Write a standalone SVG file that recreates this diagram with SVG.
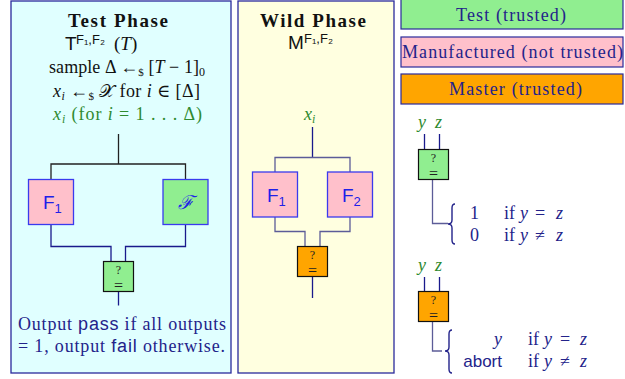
<svg xmlns="http://www.w3.org/2000/svg" width="625" height="379" viewBox="0 0 625 379">
<style>
.serif{font-family:'Liberation Serif','DejaVu Serif',serif;}
.sans{font-family:'Liberation Sans','DejaVu Sans',sans-serif;}
.it{font-style:italic;}
.bold{font-weight:bold;}
.navy{fill:#23238a;}
.green{fill:#2f8a2f;}
.blk{fill:#111;}
.panel{stroke:#2a2a9c;stroke-width:1.3;}
.mfr{fill:#ffc0cb;stroke:#3a3aee;stroke-width:1.3;}
.tst{fill:#90ee90;stroke:#3a3aee;stroke-width:1.3;}
.eqg{fill:#90ee90;stroke:#111;stroke-width:1.2;}
.eqo{fill:#ffa500;stroke:#111;stroke-width:1.2;}
.lbl{font-family:'Liberation Sans','DejaVu Sans',sans-serif;font-size:19px;fill:#2020e8;}
.q{font-family:'Liberation Serif','DejaVu Serif',serif;fill:#222;text-anchor:middle;}
.w{fill:none;stroke-width:1.3;}
.wn{stroke:#1a1a8c;}
.wg{stroke:#5c5c98;}
.wk{stroke:#222;}
.brace{fill:none;stroke:#23238a;stroke-width:1.4;}
</style>

<g id="test-panel">
  <rect class="panel" x="11" y="1" width="220" height="372" fill="#e0ffff"/>
  <text class="serif bold blk" x="68" y="27" font-size="19" textLength="100">Test Phase</text>
  <text class="blk" y="49.5" font-size="19"><tspan class="sans" x="65">T</tspan><tspan class="sans" font-size="13" dy="-6" x="76">F₁,F₂</tspan><tspan class="serif" dy="6" x="114">(</tspan><tspan class="serif it">T</tspan><tspan class="serif">)</tspan></text>
  <text class="serif blk" x="49" y="73" font-size="18" textLength="156">sample Δ ←<tspan font-size="11" dy="3">$</tspan><tspan dy="-3"> [</tspan><tspan class="it">T</tspan> − 1]<tspan font-size="12" dy="3">0</tspan></text>
  <text class="serif blk" x="53" y="97" font-size="18" textLength="147"><tspan class="it">x</tspan><tspan class="it" font-size="12" dy="3">i</tspan><tspan dy="-3"> ←</tspan><tspan font-size="11" dy="3">$</tspan><tspan dy="-3"> 𝒳 </tspan>for <tspan class="it">i</tspan> ∈ [Δ]</text>
  <text class="serif green" x="53" y="120" font-size="18" textLength="149"><tspan class="it">x</tspan><tspan class="it" font-size="12" dy="3">i</tspan><tspan dy="-3"> (for </tspan><tspan class="it">i</tspan> = 1 . . . Δ)</text>
  <text class="serif navy" x="18" y="330" font-size="18" textLength="208">Output <tspan class="sans">pass</tspan> if all outputs</text>
  <text class="serif navy" x="18" y="352" font-size="18" textLength="207">= 1, output <tspan class="sans">fail</tspan> otherwise.</text>
</g>

<g id="wild-panel">
  <rect class="panel" x="238" y="1" width="156" height="372" fill="#ffffe0"/>
  <text class="serif bold blk" x="260" y="27" font-size="19" textLength="106">Wild Phase</text>
  <text class="blk" y="49" font-size="19"><tspan class="sans" x="288">M</tspan><tspan class="sans" font-size="13" dy="-6" x="304">F₁,F₂</tspan></text>
  <text class="serif green it" x="304" y="120" font-size="18">x<tspan font-size="12" dy="3">i</tspan></text>
</g>

<g id="legend-test">
  <rect x="401" y="-1" width="222" height="30" fill="#90ee90" stroke="#2a2a9c" stroke-width="1.2"/>
  <text class="serif navy" x="456" y="21" font-size="18" textLength="110">Test (trusted)</text>
</g>
<g id="legend-manufactured">
  <rect x="401" y="37" width="222" height="30" fill="#ffc0cb" stroke="#2a2a9c" stroke-width="1.2"/>
  <text class="serif navy" x="402" y="58" font-size="18" textLength="221">Manufactured (not trusted)</text>
</g>
<g id="legend-master">
  <rect x="401" y="74" width="222" height="30" fill="#ffa500" stroke="#2a2a9c" stroke-width="1.2"/>
  <text class="serif navy" x="449" y="95" font-size="18" textLength="133">Master (trusted)</text>
</g>

<g id="connectors">
  <polyline class="w wk" points="118.5,134 118.5,164"/>
  <polyline class="w wk" points="51,179 51,164 185.5,164 185.5,179"/>
  <polyline class="w wn" points="51,224 51,246.5 111,246.5 111,261"/>
  <polyline class="w wn" points="185.5,224 185.5,246.5 125.5,246.5 125.5,261"/>
  <polyline class="w wn" points="118.5,291 118.5,305.5"/>
  <polyline class="w wn" points="312.5,127 312.5,157.5"/>
  <polyline class="w wg" points="275,172 275,157.5 350,157.5 350,172"/>
  <polyline class="w wg" points="275,217 275,231.5 305,231.5 305,247"/>
  <polyline class="w wg" points="350,217 350,231.5 320,231.5 320,247"/>
  <polyline class="w wn" points="312.5,276 312.5,298"/>
  <polyline class="w wn" points="424.5,134 424.5,149"/>
  <polyline class="w wn" points="439.5,134 439.5,149"/>
  <polyline class="w wg" points="432.5,179 432.5,223.5 448,223.5"/>
  <polyline class="w wn" points="424.5,277 424.5,291"/>
  <polyline class="w wn" points="439.5,277 439.5,291"/>
  <polyline class="w wg" points="432.5,321 432.5,351 442,351"/>
</g>

<g id="test-F1">
  <rect class="mfr" x="28.5" y="179.5" width="45" height="45"/>
  <text class="lbl" x="43" y="209">F<tspan font-size="13" dy="4">1</tspan></text>
</g>
<g id="test-F">
  <rect class="tst" x="163" y="179.5" width="45" height="45"/>
  <text x="185.5" y="209" font-size="19" font-style="italic" fill="#2020e8" text-anchor="middle" font-family="DejaVu Serif,serif">ℱ</text>
</g>
<g id="test-eq">
  <rect class="eqg" x="103.5" y="261.5" width="30" height="30"/>
  <text class="q"><tspan x="118.5" y="274" font-size="12">?</tspan><tspan x="118.5" y="290.5" font-size="16">=</tspan></text>
</g>

<g id="wild-F1">
  <rect class="mfr" x="252.5" y="172" width="45" height="45"/>
  <text class="lbl" x="267" y="201.5">F<tspan font-size="13" dy="4">1</tspan></text>
</g>
<g id="wild-F2">
  <rect class="mfr" x="327.5" y="172" width="45" height="45"/>
  <text class="lbl" x="342" y="201.5">F<tspan font-size="13" dy="4">2</tspan></text>
</g>
<g id="wild-eq">
  <rect class="eqo" x="297.5" y="246.5" width="30" height="30"/>
  <text class="q"><tspan x="312.5" y="259" font-size="12">?</tspan><tspan x="312.5" y="275.5" font-size="16">=</tspan></text>
</g>

<g id="gadget-test">
  <text class="serif it green" x="418" y="128" font-size="18">y</text>
  <text class="serif it green" x="435" y="128" font-size="18">z</text>
  <rect class="eqg" x="418.5" y="149.5" width="30" height="30"/>
  <text class="q"><tspan x="433.5" y="162" font-size="12">?</tspan><tspan x="433.5" y="178.5" font-size="16">=</tspan></text>
  <path class="brace" d="M455,204 Q452,204 452,208 L452,220 Q452,224 448,224 Q452,224 452,228 L452,240 Q452,244 455,244"/>
  <text class="serif navy" x="470" y="219" font-size="18">1</text>
  <text class="serif navy" x="470" y="241" font-size="18">0</text>
  <text class="serif navy" y="219" font-size="18"><tspan x="504">if</tspan><tspan class="it" x="520">y</tspan><tspan x="535">=</tspan><tspan class="it" x="556">z</tspan></text>
  <text class="serif navy" y="241" font-size="18"><tspan x="504">if</tspan><tspan class="it" x="520">y</tspan><tspan x="535">≠</tspan><tspan class="it" x="556">z</tspan></text>
</g>

<g id="gadget-master">
  <text class="serif it green" x="418" y="271" font-size="18">y</text>
  <text class="serif it green" x="435" y="271" font-size="18">z</text>
  <rect class="eqo" x="418.5" y="291.5" width="30" height="30"/>
  <text class="q"><tspan x="433.5" y="304" font-size="12">?</tspan><tspan x="433.5" y="320.5" font-size="16">=</tspan></text>
  <path class="brace" d="M452,330 Q449,330 449,334 L449,347 Q449,351 445,351 Q449,351 449,355 L449,369 Q449,373 452,373"/>
  <text class="serif navy it" x="502" y="345" font-size="18" text-anchor="end">y</text>
  <text class="sans navy" x="502" y="367" font-size="17" text-anchor="end">abort</text>
  <text class="serif navy" y="345" font-size="18"><tspan x="528">if</tspan><tspan class="it" x="544">y</tspan><tspan x="560">=</tspan><tspan class="it" x="580">z</tspan></text>
  <text class="serif navy" y="367" font-size="18"><tspan x="528">if</tspan><tspan class="it" x="544">y</tspan><tspan x="560">≠</tspan><tspan class="it" x="580">z</tspan></text>
</g>
</svg>
